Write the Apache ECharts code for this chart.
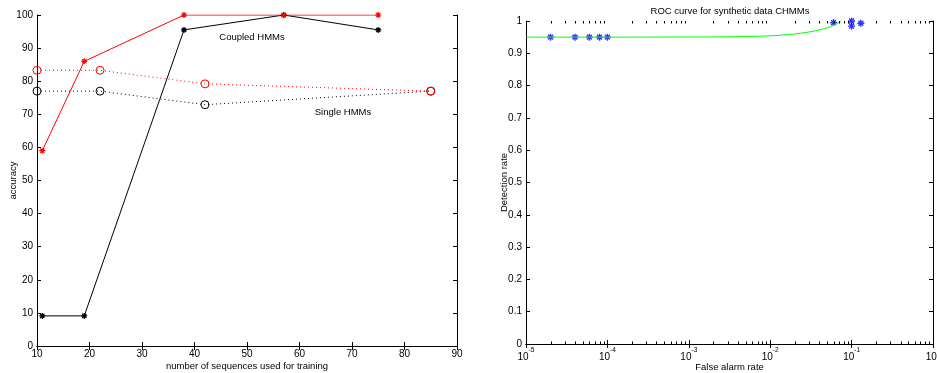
<!DOCTYPE html>
<html>
<head>
<meta charset="utf-8">
<script src="https://cdn.jsdelivr.net/npm/echarts@6/dist/echarts.min.js"></script>
<style>
html,body{margin:0;padding:0;background:#fff;}
#c{width:937px;height:373px;}
</style>
</head>
<body>
<div id="c"></div>
<script>
// ---- Left chart data ----
const coupledX = [11, 19, 38, 57, 75];
const coupledBlack = [9.1, 9.1, 95.5, 100, 95.5];
const coupledRed = [59, 86, 100, 100, 100];
const singleX = [10, 22, 42, 85];
const singleBlack = [77, 77, 72.9, 77];
const singleRed = [83.3, 83.3, 79.2, 77];
const accXTicks = [10, 20, 30, 40, 50, 60, 70, 80, 90];
const accYTicks = [0, 10, 20, 30, 40, 50, 60, 70, 80, 90, 100];

// ---- Right chart data ----
const rocPointsX = [2e-5, 4e-5, 6e-5, 8e-5, 1e-4, 0.06, 0.1, 0.1, 0.13];
const rocPointsY = [0.95, 0.95, 0.95, 0.95, 0.95, 0.995, 1.0, 0.984, 0.993];
const rocCurveX = [1e-5, 1e-4, 1e-3, 0.003, 0.01, 0.02, 0.03, 0.04, 0.05, 0.06, 0.07, 0.075];
const rocCurveY = [0.95, 0.95, 0.9505, 0.951, 0.954, 0.960, 0.966, 0.972, 0.979, 0.987, 0.995, 1.0];
const rocXDecades = [1e-5, 1e-4, 1e-3, 1e-2, 1e-1, 1];
const rocMinorMult = [2, 3, 4, 5, 6, 7, 8, 9];

const FONT = 'Liberation Sans, Arial, Helvetica, sans-serif';
const zip = (a, b) => a.map((v, i) => [v, b[i]]);

const asterisk = 'path://M-1,-0.2L1,-0.2L1,0.2L-1,0.2Z' +
  'M-0.2,-1L0.2,-1L0.2,1L-0.2,1Z' +
  'M-0.56,-0.84L0.84,0.56L0.56,0.84L-0.84,-0.56Z' +
  'M-0.84,0.56L0.56,-0.84L0.84,-0.56L-0.56,0.84Z';

const minorTicks = [];
rocXDecades.slice(0, -1).forEach(d => rocMinorMult.forEach(m => minorTicks.push([d * m, 0.5])));

const labelBase = {color: '#000', fontFamily: FONT, fontSize: 10};
const lineAx = {show: true, lineStyle: {color: '#000', width: 1}};
const tickIn = {show: true, inside: true, length: 4, lineStyle: {color: '#000', width: 1}};
const nameStyle = {fontFamily: FONT, fontSize: 9.5, color: '#000'};

const chart = echarts.init(document.getElementById('c'), null, {renderer: 'canvas'});
const option = {
  animation: false,
  backgroundColor: '#fff',
  title: {
    text: 'ROC curve for synthetic data CHMMs',
    left: 730, top: 6, textAlign: 'center', padding: 0,
    textStyle: {fontFamily: FONT, fontSize: 9.5, fontWeight: 'normal', color: '#000'}
  },
  grid: [
    {left: 37, top: 15, width: 420, height: 331, outerBoundsMode: 'none', containLabel: false},
    {left: 526, top: 21, width: 407, height: 323, outerBoundsMode: 'none', containLabel: false}
  ],
  xAxis: [
    {gridIndex: 0, type: 'value', min: accXTicks[0], max: accXTicks[accXTicks.length - 1], interval: 10,
      name: 'number of sequences used for training', nameLocation: 'middle', nameGap: 15, nameMoveOverlap: false,
      nameTextStyle: nameStyle,
      axisLine: lineAx, axisTick: tickIn, splitLine: {show: false},
      axisLabel: Object.assign({margin: 3}, labelBase)},
    {gridIndex: 1, type: 'log', logBase: 10, min: rocXDecades[0], max: rocXDecades[rocXDecades.length - 1],
      name: 'False alarm rate', nameLocation: 'middle', nameGap: 18.5, nameMoveOverlap: false,
      nameTextStyle: nameStyle,
      axisLine: lineAx, axisTick: tickIn, splitLine: {show: false}, minorTick: {show: false},
      axisLabel: {margin: 3, color: '#000', fontFamily: FONT,
        formatter: v => '{b|10}{s|' + Math.round(Math.log10(v)) + '}',
        rich: {
          b: {fontSize: 10, fontFamily: FONT, color: '#000', verticalAlign: 'bottom', lineHeight: 15},
          s: {fontSize: 6.5, fontFamily: FONT, color: '#000', verticalAlign: 'top', lineHeight: 7}
        }}},
    {gridIndex: 0, type: 'value', position: 'top', min: 10, max: 90, interval: 10,
      axisLine: lineAx, axisTick: tickIn, axisLabel: {show: false}, splitLine: {show: false}},
    {gridIndex: 1, type: 'log', logBase: 10, position: 'top', min: 1e-5, max: 1,
      axisLine: lineAx, axisTick: tickIn, axisLabel: {show: false}, splitLine: {show: false}}
  ],
  yAxis: [
    {gridIndex: 0, type: 'value', min: accYTicks[0], max: accYTicks[accYTicks.length - 1], interval: 10,
      name: 'accuracy', nameLocation: 'middle', nameGap: 19, nameRotate: 90, nameMoveOverlap: false,
      nameTextStyle: nameStyle,
      axisLine: lineAx, axisTick: tickIn, splitLine: {show: false},
      axisLabel: Object.assign({margin: 4}, labelBase)},
    {gridIndex: 1, type: 'value', min: 0, max: 1, interval: 0.1,
      name: 'Detection rate', nameLocation: 'middle', nameGap: 17, nameRotate: 90, nameMoveOverlap: false,
      nameTextStyle: nameStyle,
      axisLine: lineAx, axisTick: tickIn, splitLine: {show: false},
      axisLabel: Object.assign({margin: 4}, labelBase)},
    {gridIndex: 0, type: 'value', position: 'right', min: 0, max: 100, interval: 10,
      axisLine: lineAx, axisTick: tickIn, axisLabel: {show: false}, splitLine: {show: false}},
    {gridIndex: 1, type: 'value', position: 'right', min: 0, max: 1, interval: 0.1,
      axisLine: lineAx, axisTick: tickIn, axisLabel: {show: false}, splitLine: {show: false}}
  ],
  graphic: [
    {type: 'text', x: 252, y: 37, style: {text: 'Coupled HMMs', font: '9.5px ' + FONT, fill: '#000', align: 'center', verticalAlign: 'middle'}},
    {type: 'text', x: 343, y: 112, style: {text: 'Single HMMs', font: '9.5px ' + FONT, fill: '#000', align: 'center', verticalAlign: 'middle'}}
  ],
  series: [
    {type: 'line', xAxisIndex: 0, yAxisIndex: 0, data: zip(singleX, singleBlack),
      lineStyle: {color: '#000', width: 1, type: [1, 3]}, symbol: 'circle', symbolSize: 8,
      itemStyle: {color: 'rgba(0,0,0,0)', borderColor: '#000', borderWidth: 1}},
    {type: 'line', xAxisIndex: 0, yAxisIndex: 0, data: zip(singleX, singleRed),
      lineStyle: {color: '#ff0000', width: 1, type: [1, 3]}, symbol: 'circle', symbolSize: 8,
      itemStyle: {color: 'rgba(0,0,0,0)', borderColor: '#ff0000', borderWidth: 1}},
    {type: 'line', xAxisIndex: 0, yAxisIndex: 0, data: zip(coupledX, coupledBlack),
      lineStyle: {color: '#000', width: 1}, symbol: asterisk, symbolSize: 6,
      itemStyle: {color: '#000'}},
    {type: 'line', xAxisIndex: 0, yAxisIndex: 0, data: zip(coupledX, coupledRed),
      lineStyle: {color: '#ff0000', width: 1}, symbol: asterisk, symbolSize: 6,
      itemStyle: {color: '#ff0000'}},
    {type: 'line', xAxisIndex: 1, yAxisIndex: 1, data: zip(rocCurveX, rocCurveY), smooth: 0.3,
      lineStyle: {color: '#00ff00', width: 1}, symbol: 'none', clip: true},
    {type: 'scatter', xAxisIndex: 1, yAxisIndex: 1, data: zip(rocPointsX, rocPointsY),
      symbol: asterisk, symbolSize: 7, itemStyle: {color: '#0000ff'}},
    {type: 'custom', xAxisIndex: 1, yAxisIndex: 1, data: minorTicks, silent: true, z: 5,
      renderItem: (params, api) => {
        const v = api.value(0);
        const pb = api.coord([v, 0]);
        const pt = api.coord([v, 1]);
        const st = {stroke: '#000', lineWidth: 1};
        return {type: 'group', children: [
          {type: 'line', shape: {x1: Math.round(pb[0]) + 0.5, y1: pb[1], x2: Math.round(pb[0]) + 0.5, y2: pb[1] - 2.5}, style: st},
          {type: 'line', shape: {x1: Math.round(pt[0]) + 0.5, y1: pt[1], x2: Math.round(pt[0]) + 0.5, y2: pt[1] + 2.5}, style: st}
        ]};
      }}
  ]
};
chart.setOption(option);
</script>
</body>
</html>
